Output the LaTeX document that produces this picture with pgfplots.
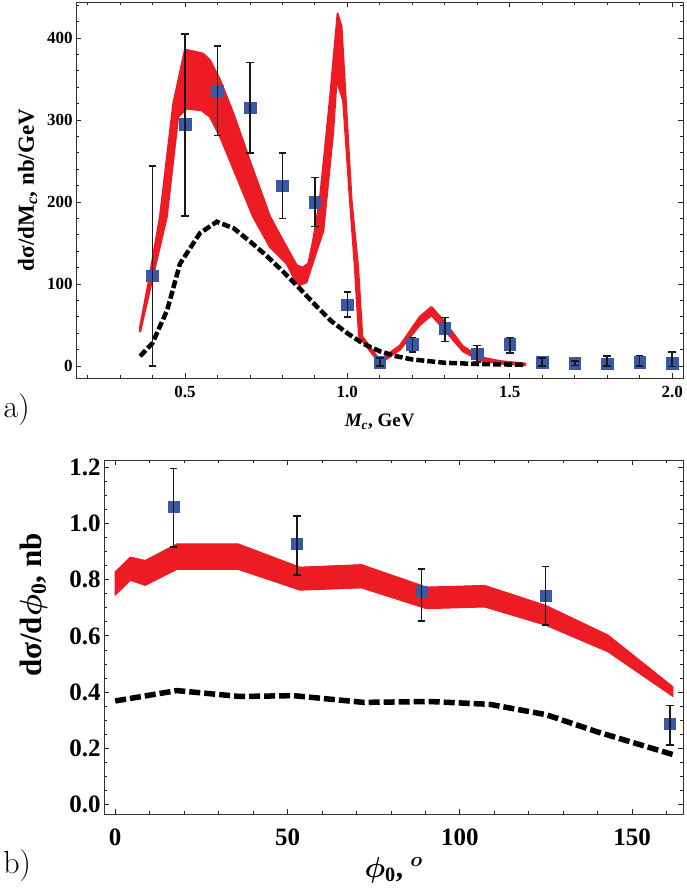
\RequirePackage{fix-cm}
\documentclass[border=0pt]{standalone}
\usepackage{pgfplots}
\pgfplotsset{compat=1.18}
\usepackage{fontspec}
\setmainfont{Liberation Serif}
\usepackage{bm}
\definecolor{bandred}{RGB}{237,28,36}
\definecolor{ptblue}{RGB}{58,88,165}
\pgfplotsset{
  myframe/.style={
    scale only axis,
    axis line style={black!80, line width=0.8bp},
    tick style={black!85, line width=0.8bp},
    tick align=inside,
    major tick length=5bp, minor tick length=3bp,
    /pgf/number format/assume math mode=true,
  },
  errs/.style={only marks, mark=square*, mark options={opacity=0}, on layer=axis foreground,
    error bars/.cd, y dir=both, y explicit,
    error bar style={draw=black!90, line width=1.6bp},
    error mark options={rotate=90, draw=black!90, line width=1.6bp, mark size=3.8bp}},
}
\begin{document}
\begin{tikzpicture}[x=1bp,y=1bp]
\path (0,0) rectangle (685,-892);
\node at (16.5,-410) {\fontfamily{lmr}\fontsize{32bp}{32bp}\selectfont a)};
\node at (17,-866) {\fontfamily{lmr}\fontsize{32bp}{32bp}\selectfont b)};
% ---------- panel a ----------
\begin{axis}[myframe, set layers=standard,
  at={(76bp,-2bp)}, anchor=north west,
  width=607bp, height=376bp,
  xmin=0.165, xmax=2.034, ymin=-14.6, ymax=444,
  xtick={0.5,1,1.5,2}, xticklabels={0.5,1.0,1.5,2.0},
  minor xtick={0.2,0.3,0.4,0.6,0.7,0.8,0.9,1.1,1.2,1.3,1.4,1.6,1.7,1.8,1.9},
  ytick={0,100,200,300,400},
  minor ytick={20,40,60,80,120,140,160,180,220,240,260,280,320,340,360,380,420,440},
  tick label style={font=\fontsize{17bp}{17bp}\selectfont\bfseries},
  xticklabel style={anchor=base, yshift=-19bp},
  xlabel={\fontsize{19bp}{19bp}\selectfont\bfseries\itshape M\textsubscript{c}\upshape, GeV},
  xlabel style={at={(axis description cs:0.5,-0.130)}, anchor=base},
  ylabel={\fontsize{23bp}{23bp}\selectfont\bfseries dσ/dM\textsubscript{\itshape c}, nb/GeV},
  ylabel style={at={(axis description cs:-0.080,0.5)}, anchor=center},
]
% red band: upper edge forward, lower edge backward
\addplot[fill=bandred, draw=bandred, line width=2bp, line join=round] coordinates {
(0.362,48) (0.387,100) (0.423,182) (0.464,320) (0.500,386) (0.556,381) (0.577,373)
(0.608,349) (0.649,308) (0.710,239) (0.762,182) (0.813,145) (0.844,123) (0.862,120)
(0.880,125) (0.895,154) (0.915,202) (0.946,324) (0.970,430) (0.982,414) (1.013,202)
(1.033,121) (1.046,36) (1.100,7) (1.162,25) (1.223,60) (1.259,72) (1.295,56)
(1.356,24) (1.408,11) (1.470,6) (1.548,3)
(1.548,1) (1.470,3) (1.408,7) (1.356,18) (1.295,46) (1.259,62) (1.223,50)
(1.162,20) (1.100,3) (1.036,36) (1.023,121) (1.008,202) (0.987,324) (0.967,349)
(0.956,284) (0.926,165) (0.905,140) (0.874,102) (0.854,99) (0.844,101) (0.813,125)
(0.762,145) (0.710,182) (0.659,231) (0.608,280) (0.577,304) (0.551,312) (0.505,314)
(0.479,304) (0.444,182) (0.362,42)
} -- cycle;
% black dashed
\addplot[black, line width=4.5bp, dash pattern=on 8bp off 3bp] coordinates {
(0.362,12) (0.400,28) (0.445,68) (0.485,125) (0.546,162) (0.598,176) (0.650,168)
(0.700,152) (0.750,135) (0.800,116) (0.850,96) (0.900,75) (0.950,55) (1.000,40)
(1.050,27) (1.100,18) (1.150,12) (1.200,8) (1.300,4) (1.400,2.5) (1.548,1.5)
};
\addplot[only marks, mark=square*, mark size=5.8bp, mark options={ptblue, fill=ptblue}] table[x=x, y=y] {
x y
0.4 110
0.5 295
0.6 335
0.7 315
0.8 220
0.9 200
1.0 75
1.1 5
1.2 27
1.3 46
1.4 15
1.5 27
1.6 5
1.7 3.5
1.8 3
1.9 5
2.0 3.5
};
\addplot[errs] table[x=x, y=y, y error plus=ep, y error minus=em] {
x y ep em
0.4 110 134 110
0.5 295 110 112
0.6 335 55 54
0.7 315 55 55
0.8 220 40 40
0.9 200 30 30
1.0 75 15 15
1.1 5 5 5
1.2 27 8 10
1.3 46 13 16
1.4 15 10 10
1.5 27 8 11
1.6 5 5 5
1.7 3.5 3 3
1.8 3 9 3
1.9 5 8 5
2.0 3.5 13.5 4
};
\end{axis}
% ---------- panel b ----------
\begin{axis}[myframe, set layers=standard,
  at={(104bp,-460bp)}, anchor=north west,
  width=579bp, height=354bp,
  xmin=-3.2, xmax=164.8, ymin=-0.035, ymax=1.227,
  xtick={0,50,100,150},
  minor xtick={10,20,30,40,60,70,80,90,110,120,130,140,160},
  ytick={0,0.2,0.4,0.6,0.8,1.0,1.2}, yticklabels={0.0,0.2,0.4,0.6,0.8,1.0,1.2},
  minor ytick={0.05,0.1,0.15,0.25,0.3,0.35,0.45,0.5,0.55,0.65,0.7,0.75,0.85,0.9,0.95,1.05,1.1,1.15},
  tick label style={font=\fontsize{25bp}{25bp}\selectfont\bfseries},
  xticklabel style={anchor=base, yshift=-31bp},
  xlabel={\fontsize{29bp}{29bp}\selectfont\bfseries $\bm{\phi}_{\mathbf{0}}$, $^{\bm{o}}$},
  xlabel style={at={(axis description cs:0.5,-0.178)}, anchor=base},
  ylabel={\fontsize{31bp}{31bp}\selectfont\bfseries dσ/d$\bm{\phi}_{\mathbf{0}}$, nb},
  ylabel style={at={(axis description cs:-0.122,0.59)}, anchor=center},
]
\addplot[fill=bandred, draw=bandred, line width=1bp, line join=round] coordinates {
(0,0.828) (4.4,0.881) (8.7,0.869) (17.9,0.928) (35.7,0.928) (53.6,0.845) (71.5,0.854)
(90.3,0.774) (107.2,0.780) (124.9,0.709) (143,0.603) (161.8,0.419)
(161.8,0.384) (143,0.543) (124.9,0.638) (107.2,0.703) (90.3,0.697) (71.5,0.771)
(53.6,0.763) (35.7,0.837) (17.9,0.837) (8.7,0.780) (4.4,0.798) (0,0.745)
} -- cycle;
\addplot[black, line width=5.5bp, dash pattern=on 11bp off 4bp] coordinates {
(0,0.368) (17.9,0.405) (36.2,0.384) (51.7,0.387) (72,0.363) (91.3,0.366)
(108.7,0.356) (125.1,0.319) (139.6,0.259) (161.8,0.177)
};
\addplot[only marks, mark=square*, mark size=5.5bp, mark options={ptblue, fill=ptblue}] table[x=x, y=y] {
x y
16.9 1.061
52.7 0.928
88.9 0.757
124.9 0.745
160.9 0.287
};
\addplot[errs] table[x=x, y=y, y error plus=ep, y error minus=em] {
x y ep em
16.9 1.061 0.136 0.144
52.7 0.928 0.099 0.110
88.9 0.757 0.082 0.103
124.9 0.745 0.103 0.107
160.9 0.287 0.065 0.075
};
\end{axis}
\end{tikzpicture}
\end{document}
